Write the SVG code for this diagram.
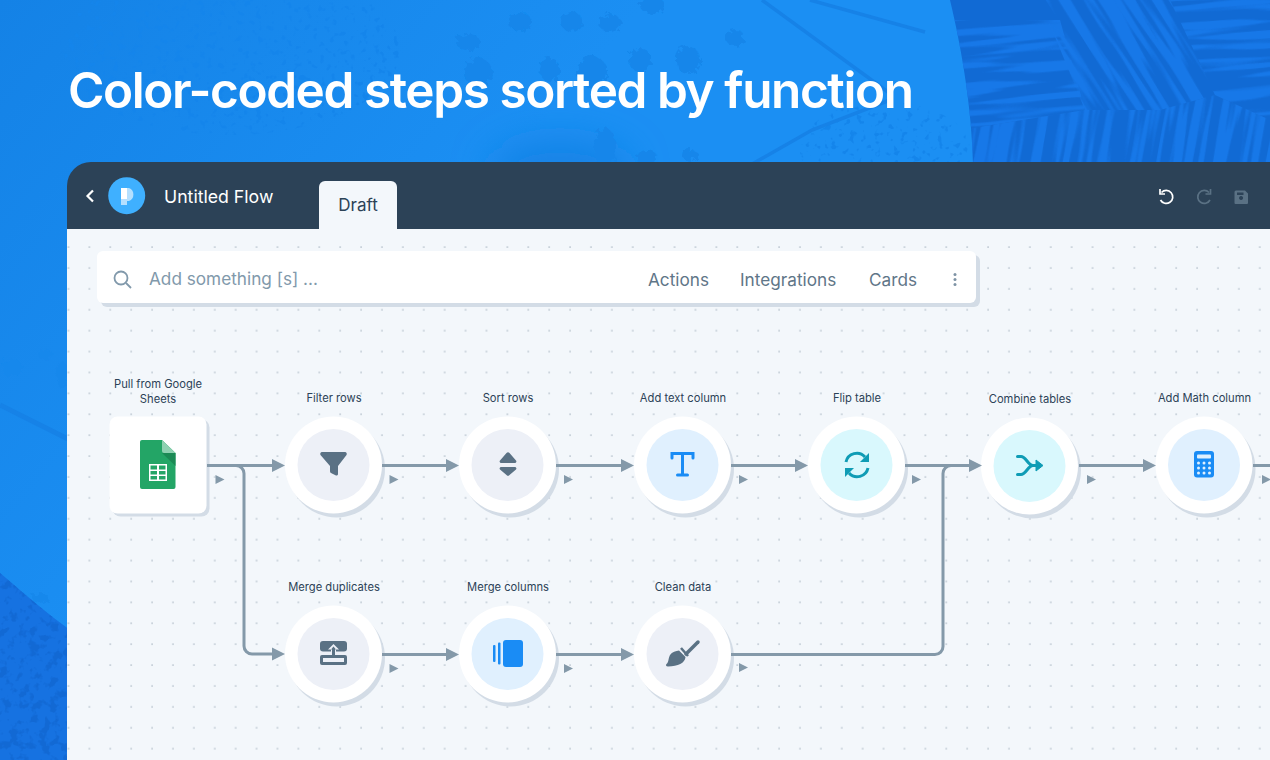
<svg xmlns="http://www.w3.org/2000/svg" width="1270" height="760" viewBox="0 0 1270 760">
<style>
text{font-family:Inter,"Noto Sans","Liberation Sans",sans-serif}
.lb{font-size:11.2px;fill:#2c4257;text-anchor:middle}
.mn{font-size:17.200px;fill:#5f7688}
.ring{fill:#fff}
.sh{fill:#d3dce6}
.gr{fill:#edf0f7}
.bl{fill:#e0f0fe}
.cy{fill:#d9f8fd}
.ic{fill:#5a7184}
.ib{fill:#1a8cf5}
.cn{fill:none;stroke:#8499a9;stroke-width:3}
.ar{marker-end:url(#head)}
.tri{fill:#8499a9}
</style>
<defs>
<marker id="head" markerUnits="userSpaceOnUse" markerWidth="13" markerHeight="14" refX="6" refY="7" orient="auto"><path d="M0,0.5L13,7L0,13.5Z" fill="#8499a9"/></marker>
<pattern id="dots" patternUnits="userSpaceOnUse" x="67.4" y="225.1" width="20.9" height="20.9"><rect x="0.3" y="0.3" width="1.6" height="1.6" fill="#bfc9d3"/></pattern>
<filter id="speck" x="0" y="0" width="100%" height="100%" color-interpolation-filters="sRGB"><feTurbulence type="fractalNoise" baseFrequency="0.16" numOctaves="2" seed="4"/><feColorMatrix values="0 0 0 0 0.08 0 0 0 0 0.52 0 0 0 0 0.92 9 0 0 0 -5.4"/><feComposite in2="SourceAlpha" operator="in"/></filter>
<filter id="speck2" x="0" y="0" width="100%" height="100%" color-interpolation-filters="sRGB"><feTurbulence type="fractalNoise" baseFrequency="0.1" numOctaves="3" seed="9"/><feColorMatrix values="0 0 0 0 0.07 0 0 0 0 0.41 0 0 0 0 0.83 8 0 0 0 -4.2"/><feComposite in2="SourceAlpha" operator="in"/></filter>
<filter id="rough" x="-20%" y="-20%" width="140%" height="140%"><feTurbulence type="fractalNoise" baseFrequency="0.2" numOctaves="2" seed="3" result="n"/><feDisplacementMap in="SourceGraphic" in2="n" scale="9"/></filter>
<filter id="soft" x="-50%" y="-50%" width="200%" height="200%"><feGaussianBlur stdDeviation="18"/></filter>
<filter id="streak" x="0" y="0" width="100%" height="100%" color-interpolation-filters="sRGB"><feTurbulence type="fractalNoise" baseFrequency="0.007 0.11" numOctaves="2" seed="7"/><feColorMatrix values="0 0 0 0 0.09 0 0 0 0 0.47 0 0 0 0 0.91 10 0 0 0 -4.6"/><feComposite in2="SourceAlpha" operator="in"/></filter>
<clipPath id="tr"><path d="M950,0C962,50 972,110 973,165H1270V0Z"/></clipPath>
<clipPath id="bot"><path d="M0,573C20,590 45,612 70,630V760H0Z"/></clipPath>
<clipPath id="pa"><path d="M950,20L1060,20L1085,110L960,130ZM1170,0H1270V120L1215,95Z"/></clipPath>
<clipPath id="pb"><path d="M1040,0H1170L1215,95L1160,110L1085,110Z"/></clipPath>
<clipPath id="pc"><path d="M960,130L1085,110H1160L1215,95L1270,120V165H960Z"/></clipPath>
<linearGradient id="bg" gradientUnits="userSpaceOnUse" x1="0" y1="0" x2="380" y2="320"><stop offset="0" stop-color="#1482e6"/><stop offset="1" stop-color="#1b8ff3"/></linearGradient>
</defs>

<g id="background">
<rect width="1270" height="760" fill="url(#bg)"/>
<ellipse cx="560" cy="170" rx="70" ry="30" fill="#1583e6" filter="url(#soft)"/>
<ellipse cx="230" cy="50" rx="170" ry="85" fill="#000" filter="url(#speck)"/>
<ellipse cx="885" cy="150" rx="85" ry="48" fill="#000" filter="url(#speck)"/>
<g fill="none" stroke="#1682e7" stroke-width="3.500">
<path d="M762,0L888,92"/><path d="M810,0L925,32"/><path d="M703,192L812,130L890,100"/><path d="M0,405L70,440" stroke-width="5"/>
</g>
<g fill="#1586ea" filter="url(#rough)">
<ellipse cx="520" cy="22" rx="12" ry="9"/><ellipse cx="572" cy="22" rx="11" ry="10"/><ellipse cx="610" cy="23" rx="11" ry="9"/><ellipse cx="652" cy="5" rx="12" ry="9"/>
<ellipse cx="468" cy="42" rx="12" ry="8"/><ellipse cx="735" cy="38" rx="9" ry="9"/><ellipse cx="688" cy="60" rx="12" ry="14"/><ellipse cx="640" cy="60" rx="11" ry="12"/><ellipse cx="478" cy="72" rx="14" ry="14"/><ellipse cx="550" cy="70" rx="10" ry="12"/><ellipse cx="592" cy="72" rx="15" ry="16"/>
<ellipse cx="605" cy="148" rx="11" ry="20"/><ellipse cx="647" cy="158" rx="10" ry="8"/><ellipse cx="690" cy="155" rx="8" ry="6"/>
</g>
<g fill="#1888ec" filter="url(#rough)"><ellipse cx="12" cy="368" rx="10" ry="9"/><ellipse cx="62" cy="375" rx="6" ry="14"/><ellipse cx="45" cy="355" rx="8" ry="5"/><ellipse cx="40" cy="598" rx="9" ry="5"/></g>
<g clip-path="url(#tr)">
<rect x="945" width="325" height="165" fill="#116ad4"/>
<g clip-path="url(#pa)"><g transform="rotate(-5 1100 80)"><rect x="940" y="-40" width="350" height="200" fill="#000" filter="url(#streak)"/></g></g>
<g clip-path="url(#pb)"><g transform="rotate(58 1110 50)"><rect x="1010" y="-50" width="200" height="200" fill="#000" filter="url(#streak)"/></g></g>
<g clip-path="url(#pc)"><g transform="rotate(-80 1110 130)"><rect x="1040" y="-30" width="140" height="330" fill="#000" filter="url(#streak)"/></g></g>
</g>
<g clip-path="url(#bot)">
<rect y="570" width="70" height="190" fill="#1672e1"/>
<rect y="570" width="70" height="190" fill="#000" filter="url(#speck2)"/>
</g>
</g>

<text id="title" x="68" y="108" font-size="49.500" font-weight="600" letter-spacing="-1.420" fill="#fff">Color-coded steps sorted by function</text>

<g id="window">
<path d="M67,760V186a24,24 0 0 1 24,-24H1270V760Z" fill="#2c4257"/>
<rect x="67" y="229" width="1203" height="531" fill="#f3f7fb"/>
<rect x="67" y="229" width="1203" height="531" fill="url(#dots)"/>
<path d="M319,229V187a6,6 0 0 1 6,-6H391a6,6 0 0 1 6,6V229Z" fill="#f3f7fb"/>
<text x="358" y="211" font-size="17" fill="#2c4257" text-anchor="middle">Draft</text>
<path d="M93,190.500L87.500,196L93,201.500" fill="none" stroke="#fff" stroke-width="2.200"/>
<circle cx="126.700" cy="195.700" r="18.500" fill="#3fb0ff"/>
<path d="M121,188H129a7,7 0 0 1 0,13H127V205H121Z" fill="#b5e0ff"/>
<path d="M121,188H127V199H121Z" fill="#fff"/>
<text x="164" y="203" font-size="17.700" fill="#fff">Untitled Flow</text>
<g fill="none" stroke="#fff" stroke-width="1.700"><path d="M1161.500,192.500A6.500,6.500 0 1 1 1160.500,200"/><path d="M1160,189V194H1165"/></g>
<g fill="none" stroke="#5a7184" stroke-width="1.700"><path d="M1209,192.500A6.500,6.500 0 1 0 1210,200"/><path d="M1210.500,189V194H1205.500"/></g>
<path d="M1234.500,192a1.500,1.500 0 0 1 1.500,-1.500H1245L1248,193.500V203a1,1 0 0 1 -1,1H1235.500a1,1 0 0 1 -1,-1ZM1241,196a2,2 0 1 0 0.100,0ZM1237,192.500V195H1243.500V192.500Z" fill="#5a7184" fill-rule="evenodd"/>
</g>

<g id="searchbar">
<rect x="101" y="255" width="879" height="52" rx="6" fill="#d3dce6"/>
<rect x="97" y="251" width="879" height="52" rx="6" fill="#fff"/>
<circle cx="121" cy="278" r="6.500" fill="none" stroke="#8199ab" stroke-width="1.800"/>
<path d="M126,283L131,288" stroke="#8199ab" stroke-width="1.800"/>
<text x="149" y="285" font-size="17.200" fill="#8199ab">Add something [s] ...</text>
<text class="mn" x="648" y="286">Actions</text>
<text class="mn" x="740" y="286">Integrations</text>
<text class="mn" x="869" y="286">Cards</text>
<g fill="#7e93a5"><circle cx="955" cy="274.500" r="1.500"/><circle cx="955" cy="279.500" r="1.500"/><circle cx="955" cy="284.500" r="1.500"/></g>
</g>

<g id="node-sheets">
<text class="lb" x="158" y="388">Pull from Google</text><text class="lb" x="158" y="403">Sheets</text>
<rect x="112.500" y="419.500" width="97" height="97" rx="8" class="sh"/>
<rect x="109.500" y="416.500" width="97" height="97" rx="8" class="ring"/>
<path d="M142,440H162L175.500,453V487a2,2 0 0 1 -2,2H142a2,2 0 0 1 -2,-2V442a2,2 0 0 1 2,-2Z" fill="#23a566"/>
<path d="M162,453L175.500,466V453Z" fill="#1b8a55"/>
<path d="M162,440L175.500,453H164a2,2 0 0 1 -2,-2Z" fill="#8ed1b1"/>
<path d="M149,464H167V481H149ZM150.500,465.500V469.500H157V465.500ZM159,465.500V469.500H165.500V465.500ZM150.500,471V474.500H157V471ZM159,471V474.500H165.500V471ZM150.500,476V479.500H157V476ZM159,476V479.500H165.500V476Z" fill="#fff" fill-rule="evenodd"/>
</g>

<g id="node-filter">
<text class="lb" x="334" y="402">Filter rows</text>
<circle cx="336.500" cy="469" r="48.500" class="sh"/><circle cx="333.500" cy="465" r="48.500" class="ring"/><circle cx="333.500" cy="465" r="36" class="gr"/>
<path d="M322,452H345a2,2 0 0 1 1.500,3L338,466V474a1.500,1.500 0 0 1 -2,1.500L331,473a2,2 0 0 1 -1,-2V466L320.500,455a2,2 0 0 1 1.500,-3Z" class="ic"/>
</g>

<g id="node-sort">
<text class="lb" x="508" y="402">Sort rows</text>
<circle cx="510.500" cy="469" r="48.500" class="sh"/><circle cx="507.500" cy="465" r="48.500" class="ring"/><circle cx="507.500" cy="465" r="36" class="gr"/>
<path d="M506.500,453a2,2 0 0 1 3,0L516,460.500a1.500,1.500 0 0 1 -1,2.500H501a1.500,1.500 0 0 1 -1,-2.500Z" class="ic"/>
<path d="M506.500,475a2,2 0 0 0 3,0L516,469.500a1.500,1.500 0 0 0 -1,-2.500H501a1.500,1.500 0 0 0 -1,2.500Z" class="ic"/>
</g>

<g id="node-text">
<text class="lb" x="683" y="402">Add text column</text>
<circle cx="685.500" cy="469" r="48.500" class="sh"/><circle cx="682.500" cy="465" r="48.500" class="ring"/><circle cx="682.500" cy="465" r="36" class="bl"/>
<path d="M672,458V453.500H693V458M682.500,453.500V475M677.500,475H687.500" fill="none" stroke="#1a8cf5" stroke-width="3" stroke-linecap="round"/>
</g>

<g id="node-flip">
<text class="lb" x="857" y="402">Flip table</text>
<circle cx="859.500" cy="469" r="48.500" class="sh"/><circle cx="856.500" cy="465" r="48.500" class="ring"/><circle cx="856.500" cy="465" r="36" class="cy"/>
<g fill="none" stroke="#0f9cb5" stroke-width="3"><path d="M846,462A11,11 0 0 1 865,457"/><path d="M868,468A11,11 0 0 1 849,473"/></g>
<path d="M869,453V462H860Z" fill="#0f9cb5"/><path d="M845,477V468H854Z" fill="#0f9cb5"/>
</g>

<g id="node-combine">
<text class="lb" x="1030" y="403">Combine tables</text>
<circle cx="1032.500" cy="470" r="48.500" class="sh"/><circle cx="1029.500" cy="466" r="48.500" class="ring"/><circle cx="1029.500" cy="466" r="36" class="cy"/>
<path d="M1017.500,456.500H1021C1026,456.500 1028,465.500 1033,465.500H1038M1017.500,474.500H1021C1026,474.500 1028,465.500 1033,465.500" fill="none" stroke="#0f9cb5" stroke-width="3" stroke-linecap="round"/>
<path d="M1036,460L1043,465.500L1036,471Z" fill="#0f9cb5" stroke="#0f9cb5" stroke-linejoin="round"/>
</g>

<g id="node-math">
<text class="lb" x="1204.500" y="402">Add Math column</text>
<circle cx="1207" cy="469" r="48.500" class="sh"/><circle cx="1204" cy="465" r="48.500" class="ring"/><circle cx="1204" cy="465" r="36" class="bl"/>
<rect x="1194" y="451" width="20" height="26.500" rx="3" class="ib"/>
<rect x="1197" y="454.500" width="14" height="4" rx="1" fill="#e0f0fe"/>
<g fill="#e0f0fe"><circle cx="1198.500" cy="463" r="1.500"/><circle cx="1204" cy="463" r="1.500"/><circle cx="1209.500" cy="463" r="1.500"/><circle cx="1198.500" cy="468" r="1.500"/><circle cx="1204" cy="468" r="1.500"/><circle cx="1209.500" cy="468" r="1.500"/><circle cx="1198.500" cy="473" r="1.500"/><circle cx="1204" cy="473" r="1.500"/><circle cx="1209.500" cy="473" r="1.500"/></g>
</g>

<g id="node-duplicates">
<text class="lb" x="334" y="591">Merge duplicates</text>
<circle cx="336.500" cy="658" r="48.500" class="sh"/><circle cx="333.500" cy="654" r="48.500" class="ring"/><circle cx="333.500" cy="654" r="36" class="gr"/>
<rect x="320" y="641" width="27" height="10.500" rx="3" class="ic"/>
<path d="M322,655H345a2,2 0 0 1 2,2V663a2,2 0 0 1 -2,2H322a2,2 0 0 1 -2,-2V657a2,2 0 0 1 2,-2ZM323,658V662H344V658Z" class="ic" fill-rule="evenodd"/>
<path d="M333.500,644L339,649.500H336V655H331V649.500H328Z" fill="#edf0f7"/>
<path d="M333.500,646.500L336,649.500H335V655H332V649.500H331Z" class="ic"/>
</g>

<g id="node-columns">
<text class="lb" x="508" y="591">Merge columns</text>
<circle cx="510.500" cy="658" r="48.500" class="sh"/><circle cx="507.500" cy="654" r="48.500" class="ring"/><circle cx="507.500" cy="654" r="36" class="bl"/>
<rect x="503" y="640" width="20" height="27" rx="3" class="ib"/>
<rect x="493" y="645" width="2.500" height="17" rx="1" class="ib"/><rect x="498" y="642.500" width="2.500" height="22" rx="1" class="ib"/>
</g>

<g id="node-clean">
<text class="lb" x="683" y="591">Clean data</text>
<circle cx="685.500" cy="658" r="48.500" class="sh"/><circle cx="682.500" cy="654" r="48.500" class="ring"/><circle cx="682.500" cy="654" r="36" class="gr"/>
<path d="M686,654L698,642" stroke="#5a7184" stroke-width="3.500" stroke-linecap="round"/>
<path d="M681,648L688,656" stroke="#5a7184" stroke-width="2.500"/>
<path d="M679,650.500L685.500,657C685,663 678,666.500 668,666.500C666,666.500 665.500,665 666.500,664C669,662 668,659 670,655C672,652 676,651 679,650.500Z" class="ic"/>
</g>

<g id="connectors">
<path class="cn ar" d="M207,465.500H278"/>
<path class="cn ar" d="M207,465.500H236a8,8 0 0 1 8,8V646a8,8 0 0 0 8,8H278"/>
<path class="cn ar" d="M382,465.500H452"/>
<path class="cn ar" d="M556,465.500H627"/>
<path class="cn ar" d="M731,465.500H801"/>
<path class="cn ar" d="M905,465.500H975"/>
<path class="cn ar" d="M1079,465.500H1149"/>
<path class="cn" d="M1253,465.500H1270"/>
<path class="cn ar" d="M382,654.500H452"/>
<path class="cn ar" d="M556,654.500H627"/>
<path class="cn" d="M731,654.500H935a8,8 0 0 0 8,-8V473.500a8,8 0 0 1 8,-8H975"/>
<g class="tri">
<path d="M215.500,475L224.500,479.500L215.500,484Z"/><path d="M389.500,475L398.500,479.500L389.500,484Z"/><path d="M564,475L573,479.500L564,484Z"/><path d="M739,475L748,479.500L739,484Z"/><path d="M912,475L921,479.500L912,484Z"/><path d="M1087,475L1096,479.500L1087,484Z"/><path d="M1262,475L1271,479.500L1262,484Z"/>
<path d="M389.500,664L398.500,668.500L389.500,673Z"/><path d="M564,664L573,668.500L564,673Z"/><path d="M739,663L748,667.500L739,672Z"/>
</g>
</g>
</svg>
